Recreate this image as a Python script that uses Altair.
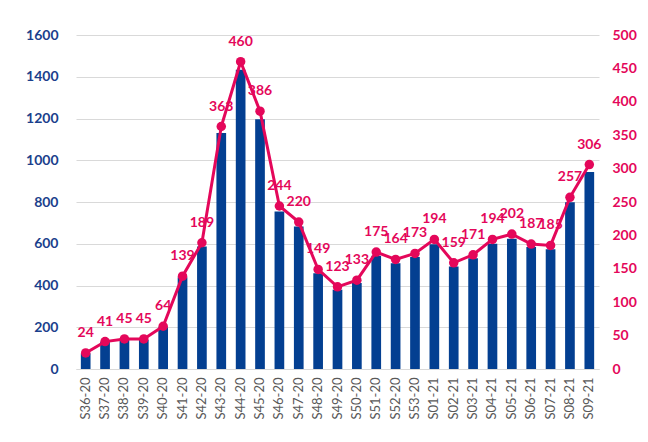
import altair as alt
import pandas as pd

weeks = ["S36-20", "S37-20", "S38-20", "S39-20", "S40-20", "S41-20", "S42-20",
         "S43-20", "S44-20", "S45-20", "S46-20", "S47-20", "S48-20", "S49-20",
         "S50-20", "S51-20", "S52-20", "S53-20", "S01-21", "S02-21", "S03-21",
         "S04-21", "S05-21", "S06-21", "S07-21", "S08-21", "S09-21"]
cases = [75, 130, 140, 140, 200, 440, 587, 1130, 1433, 1197, 754, 683, 459, 380,
         412, 542, 507, 536, 598, 491, 531, 600, 624, 585, 574, 799, 944]
rate = [24, 41, 45, 45, 64, 139, 189, 363, 460, 386, 244, 220, 149, 123, 133,
        175, 164, 173, 194, 159, 171, 194, 202, 187, 185, 257, 306]
left_ticks = list(range(0, 1601, 200))
right_ticks = list(range(0, 501, 50))

BLUE = "#033F91"
AXBLUE = "#1B3F8C"
PINK = "#E4075A"
FONT = "Lato"

df = pd.DataFrame({"week": weeks, "cases": cases, "rate": rate})

x_enc = alt.X("week:N", sort=weeks, title=None,
              scale=alt.Scale(paddingInner=0.5, paddingOuter=0.25),
              axis=alt.Axis(labelAngle=270, labelFontSize=13, labelColor="#595959",
                            labelFont=FONT, ticks=False, domainColor="#D9D9D9",
                            labelPadding=8))

base = alt.Chart(df).encode(x=x_enc)

bars = base.mark_bar(color=BLUE).encode(
    y=alt.Y("cases:Q", title=None,
            scale=alt.Scale(domain=[0, 1600], nice=False),
            axis=alt.Axis(values=left_ticks, format="d", labelColor=AXBLUE,
                          labelFontWeight="bold", labelFontSize=14, labelFont=FONT,
                          domain=False, ticks=False, gridColor="#D9D9D9",
                          labelPadding=18))
)

y_rate = alt.Y("rate:Q", title=None,
               scale=alt.Scale(domain=[0, 500], nice=False),
               axis=alt.Axis(orient="right", values=right_ticks, format="d",
                             labelColor=PINK, labelFontWeight="bold", labelFontSize=14,
                             labelFont=FONT, domain=False, ticks=False, grid=False,
                             labelPadding=13))

line = base.mark_line(color=PINK, strokeWidth=3).encode(y=y_rate)
points = base.mark_circle(color=PINK, size=90, opacity=1).encode(y=y_rate)
labels = base.mark_text(color=PINK, dy=-20, fontWeight="bold", fontSize=14,
                        font=FONT).encode(y=y_rate, text="rate:Q")

chart = alt.layer(bars, alt.layer(line, points, labels)).resolve_scale(
    y="independent"
).properties(
    width=523, height=334,
    autosize=alt.AutoSizeParams(type="none"),
    padding={"left": 68, "top": 27, "right": 41, "bottom": 70},
    background="white",
).configure_view(stroke=None)

chart.save("out.html", embed_options={"renderer": "svg", "actions": False})
